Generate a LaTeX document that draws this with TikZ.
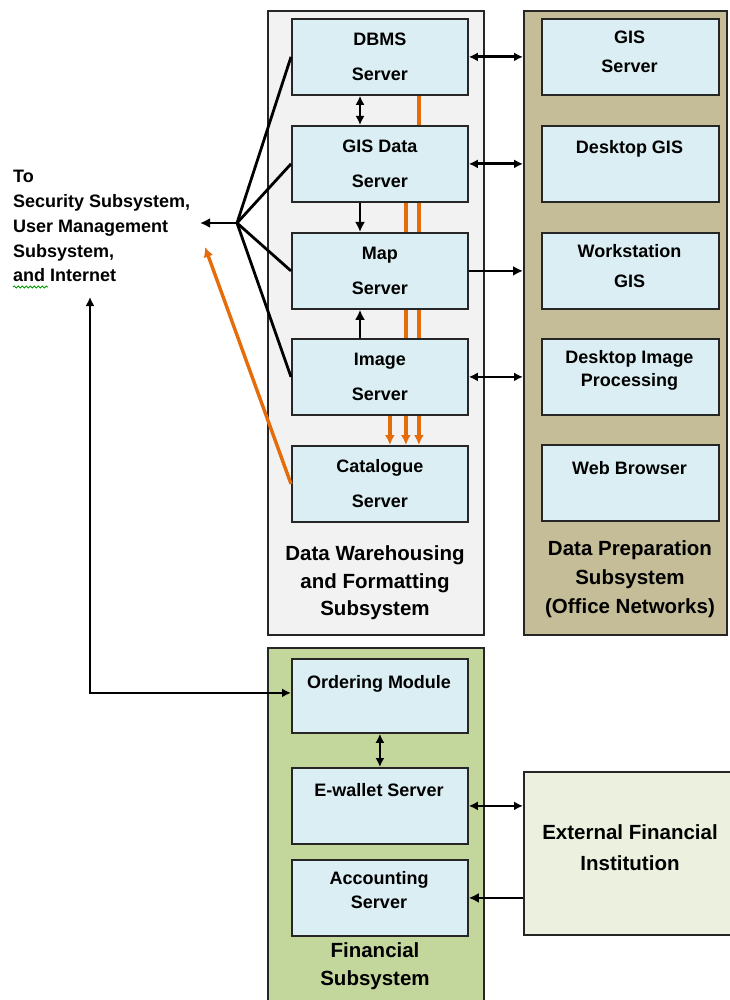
\documentclass[tikz,border=0pt]{standalone}
\usepackage{fontspec}
\setmainfont{Liberation Sans}
\usetikzlibrary{arrows.meta,calc,decorations.pathmorphing}
\definecolor{srvblue}{HTML}{DAEEF3}
\definecolor{dwgray}{HTML}{F2F2F2}
\definecolor{tanc}{HTML}{C4BD97}
\definecolor{fingreen}{HTML}{C3D69B}
\definecolor{extgreen}{HTML}{EBF1DE}
\definecolor{orangec}{HTML}{E46C0A}
\pgfdeclarelayer{bg}
\pgfdeclarelayer{mid}
\pgfsetlayers{bg,mid,main}
\begin{document}
\begin{tikzpicture}[x=1pt,y=-1pt,
 srv/.style={draw=black!85, line width=1.8pt, fill=srvblue, minimum width=176pt, minimum height=76pt, inner sep=0pt, anchor=north west, align=center, font=\bfseries\fontsize{18}{35}\selectfont},
 cont/.style={draw=black!85, line width=1.8pt, inner sep=0pt, anchor=north west},
 txt/.style={font=\bfseries\fontsize{18}{22}\selectfont, inner sep=0pt, anchor=base},
 lefttxt/.style={font=\bfseries\fontsize{18}{22}\selectfont, inner sep=0pt, anchor=base west},
 big/.style={font=\bfseries\fontsize{20.5}{24}\selectfont, inner sep=0pt, anchor=base},
 con/.style={line width=2.8pt, black},
 org/.style={line width=3.4pt, orangec},
 arr/.style={-{Latex[length=10pt,width=10pt]}},
 darr/.style={{Latex[length=9pt,width=9pt]}-{Latex[length=9pt,width=9pt]}},
]
\useasboundingbox (0,0) rectangle (729,1000);

% containers
\begin{pgfonlayer}{bg}
\node[cont, fill=dwgray, minimum width=216pt, minimum height=624pt] (dw) at (267,10) {};
\node[cont, fill=tanc, minimum width=203pt, minimum height=624pt] (prep) at (523,10) {};
\node[cont, fill=fingreen, minimum width=216pt, minimum height=370pt] (fin) at (267,647) {};
\node[cont, fill=extgreen, minimum width=220pt, minimum height=163pt] (ext) at (523,771) {};
\end{pgfonlayer}

% left column servers
\node[srv] (dbms) at (291,18) {DBMS\\Server};
\node[srv] (gisd) at (291,125) {GIS Data\\Server};
\node[srv] (map) at (291,232) {Map\\Server};
\node[srv] (img) at (291,338) {Image\\Server};
\node[srv] (cat) at (291,445) {Catalogue\\Server};

% right column
\node[srv, minimum width=177pt] (gsv) at (541,18) {};
\node[srv, minimum width=177pt] (dgis) at (541,125) {};
\node[srv, minimum width=177pt] (wgis) at (541,232) {};
\node[srv, minimum width=177pt] (dip) at (541,338) {};
\node[srv, minimum width=177pt] (web) at (541,444) {};
\node[txt] (gsvt1) at (629.5,44) {GIS};
\node[txt] (gsvt2) at (629.5,73) {Server};
\node[txt] (dgist) at (629.5,154) {Desktop GIS};
\node[txt] (wgist1) at (629.5,258) {Workstation};
\node[txt] (wgist2) at (629.5,287) {GIS};
\node[txt] (dipt1) at (629.5,363) {Desktop Image};
\node[txt] (dipt2) at (629.5,386) {Processing};
\node[txt] (webt) at (629.5,474) {Web Browser};

% financial
\node[srv, minimum height=74pt] (ord) at (291,658) {};
\node[srv] (wal) at (291,767) {};
\node[srv] (acc) at (291,859) {};
\node[txt] (ordt) at (379,688) {Ordering Module};
\node[txt] (walt) at (379,796) {E-wallet Server};
\node[txt] (acct1) at (379,884) {Accounting};
\node[txt] (acct2) at (379,908) {Server};

% container labels
\node[big] (dwl1) at (375,560) {Data Warehousing};
\node[big] (dwl2) at (375,588) {and Formatting};
\node[big] (dwl3) at (375,615) {Subsystem};
\node[big] (prl1) at (630,555) {Data Preparation};
\node[big] (prl2) at (630,584) {Subsystem};
\node[big] (prl3) at (630,613) {(Office Networks)};
\node[big] (finl1) at (375,957) {Financial};
\node[big] (finl2) at (375,985) {Subsystem};
\node[big] (extl1) at (630,839) {External Financial};
\node[big] (extl2) at (630,870) {Institution};

% left text
\node[lefttxt] (to1) at (13,183) {To};
\node[lefttxt] (to2) at (13,208) {Security Subsystem,};
\node[lefttxt] (to3) at (13,233) {User Management};
\node[lefttxt] (to4) at (13,257) {Subsystem,};
\node[lefttxt] (to5) at (13,281) {and Internet};
\draw[green!60!black, line width=0.8pt, decorate, decoration={snake, amplitude=1pt, segment length=4pt}] (13,287) -- (48,287);

% orange flows (behind boxes)
\begin{pgfonlayer}{mid}
\draw[org,arr] ($(dbms.south)+(39,0)$) -- ($(cat.north)+(39,0)$);
\draw[org,arr] ($(gisd.south)+(26,0)$) -- ($(cat.north)+(26,0)$);
\draw[org,arr] ($(img.south)+(10,0)$) -- ($(cat.north)+(10,0)$);
\end{pgfonlayer}

% fan to the left
\coordinate (J) at (237,223);
\coordinate (L) at (200,223);
\coordinate (O) at (205,247);
\draw[con,arr] (J) -- (L);
\draw[con] (J) -- (dbms.west);
\draw[con] (J) -- (gisd.west);
\draw[con] (J) -- (map.west);
\draw[con] (J) -- (img.west);
\draw[org,arr] (cat.west) -- (O);

% vertical links
\coordinate (vx) at (360,0);
\draw[con,darr] (dbms.south -| vx) -- (gisd.north -| vx);
\draw[con,arr] (gisd.south -| vx) -- (map.north -| vx);
\draw[con,arr] (img.north -| vx) -- (map.south -| vx);

% horizontal links
\draw[con,darr] (dbms.east) -- (dbms.east -| prep.west);
\draw[con,darr] (gisd.east) -- (gisd.east -| prep.west);
\draw[con,arr] (map.east) -- (map.east -| prep.west);
\draw[con,darr] (img.east) -- (img.east -| prep.west);

% financial links
\coordinate (up) at (90,297);
\coordinate (ordin) at ($(ord.west)+(0,-3)$);
\draw[con,darr] (up) -- (up |- ordin) -- (ordin);
\draw[con,darr] (ord.south) -- (wal.north);
\draw[con,darr] (wal.east) -- (wal.east -| ext.west);
\draw[con,arr] (acc.east -| ext.west) -- (acc.east);
\end{tikzpicture}
\end{document}
